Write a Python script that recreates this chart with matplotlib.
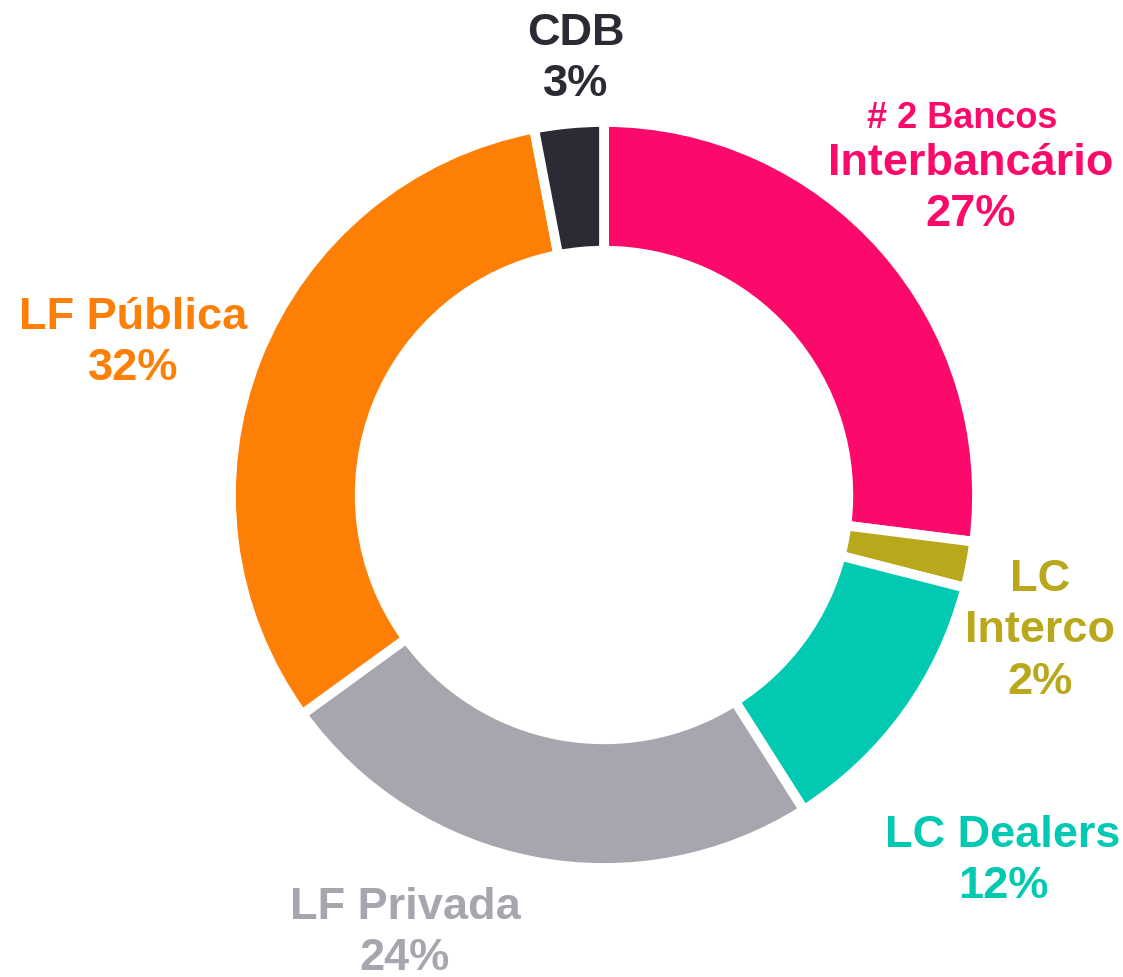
import matplotlib.pyplot as plt

plt.rcParams['font.family'] = ['Liberation Sans', 'DejaVu Sans']

categories = ['Interbancário', 'LC Interco', 'LC Dealers', 'LF Privada', 'LF Pública', 'CDB']
shares = [27, 2, 12, 24, 32, 3]
colors = ['#FC0A6B', '#B9A81B', '#02C9B2', '#A7A6AE', '#FE7F05', '#2A2B34']
label_text = ['Interbancário\n27%', 'LC\nInterco\n2%', 'LC Dealers\n12%', 'LF Privada\n24%',
              'LF Pública\n32%', 'CDB\n3%']
# label centres in pixel units (y from top)
label_pos = [(971, 189), (1040, 631), (1003, 861), (405, 933), (133, 343), (576, 59)]

W, H = 1123, 977
fig = plt.figure(figsize=(W / 100, H / 100), dpi=100)
ax = fig.add_axes([0, 0, 1, 1])

cx, cy, r = 604, H - 495, 373

# soft shadow ring
ax.pie(shares, colors=['#dcdcdc'] * len(shares), startangle=90, counterclock=False,
       radius=r, center=(cx + 3, cy - 5), frame=True,
       wedgeprops=dict(width=r * 0.345, edgecolor='white', linewidth=7))
ax.pie(shares, colors=colors, startangle=90, counterclock=False,
       radius=r, center=(cx, cy), frame=True,
       wedgeprops=dict(width=r * 0.345, edgecolor='white', linewidth=7))
ax.set_xlim(0, W)
ax.set_ylim(0, H)
ax.set_aspect('equal')
ax.axis('off')

for txt, (x, y), c in zip(label_text, label_pos, colors):
    ax.text(x, H - y, txt, ha='center', va='center', color=c, fontsize=32.5,
            fontweight='bold', linespacing=1.33)

ax.text(962, H - 118, '# 2 Bancos', ha='center', va='center', color=colors[0],
        fontsize=26, fontweight='bold')

fig.savefig('out.png', dpi=100)
